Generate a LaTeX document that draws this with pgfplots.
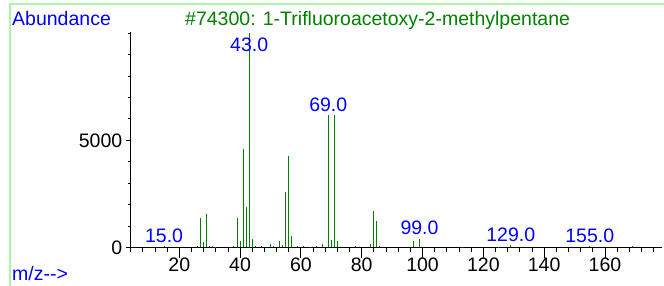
\documentclass[border=0pt]{standalone}
\usepackage{pgfplots}
\pgfplotsset{compat=1.18}
\usepackage{fontspec}
\setmainfont{Liberation Sans}
\definecolor{specgreen}{RGB}{0,128,0}
\definecolor{labblue}{RGB}{0,0,255}
\definecolor{framegreen}{RGB}{170,245,170}
\newcommand{\bigfont}{\fontsize{19.5}{23}\selectfont}
\begin{document}
\begin{tikzpicture}[x=1pt,y=1pt]
\path[use as bounding box] (0,0) rectangle (664,285);
\draw[framegreen, line width=1.5pt] (10,-5) -- (10,281) -- (670,281);
\begin{axis}[
  at={(130pt,37.7pt)}, anchor=south west,
  scale only axis, width=532pt, height=215.3pt,
  xmin=3.8, xmax=178.75, ymin=0, ymax=10060,
  axis x line=bottom, axis y line=left,
  axis line style={-, black, line width=0.8pt},
  scaled y ticks=false, scaled x ticks=false,
  xtick={20,40,...,160}, xticklabels={20,40,60,80,100,120,140,160},
  minor xtick={4,8,...,176},
  ytick={0,5000}, yticklabels={0,5000},
  minor ytick={1000,2000,...,10000},
  tick align=outside,
  major x tick style={black, line width=0.8pt, /pgfplots/major tick length=11pt},
  minor x tick style={black, line width=0.8pt, /pgfplots/minor tick length=4.5pt},
  major y tick style={black, line width=0.8pt, /pgfplots/major tick length=4pt},
  minor y tick style={black, line width=0.8pt, /pgfplots/minor tick length=2.5pt},
  tick label style={font=\bigfont, black},
  xticklabel style={yshift=-3pt},
  clip=false,
]
\addplot[ycomb, specgreen, line width=1pt, no marks] coordinates {
(15,40) (26,60) (27,1350) (28,250) (29,1570) (30,40) (31,60) (32,30)
(37,30) (38,50) (39,1390) (40,290) (41,4590) (42,1860) (43,10000) (44,380)
(45,50) (47,40) (50,150) (51,70) (53,280) (54,110) (55,2590) (56,4260)
(57,520) (59,60) (61,40) (63,30) (65,40) (67,140) (69,6170) (70,340)
(71,6170) (72,310) (78,70) (83,150) (84,1710) (85,1230) (86,80)
(97,310) (99,400) (113,30) (125,30) (129,90) (155,40) (169,40)
};
\node[labblue, anchor=base, inner sep=0, font=\bigfont] at (axis cs:43,9140) {43.0};
\node[labblue, anchor=base, inner sep=0, font=\bigfont] at ([yshift=3.5pt]axis cs:69,6170) {69.0};
\node[labblue, anchor=base, inner sep=0, font=\bigfont] at ([yshift=4.5pt]axis cs:99,400) {99.0};
\node[labblue, anchor=base, inner sep=0, font=\bigfont] at ([yshift=4pt]axis cs:129,90) {129.0};
\node[labblue, anchor=base, inner sep=0, font=\bigfont] at ([yshift=4pt]axis cs:155,40) {155.0};
\node[labblue, anchor=base, inner sep=0, font=\bigfont] at ([yshift=4pt]axis cs:15,40) {15.0};
\end{axis}
\node[anchor=base west, inner sep=0, labblue, font=\bigfont] at (12,260) {Abundance};
\node[anchor=base west, inner sep=0, specgreen, font=\bigfont] at (185,260) {\#74300: 1-Trifluoroacetoxy-2-methylpentane};
\node[anchor=base west, inner sep=0, labblue, font=\bigfont] at (12,5) {m/z{-}{-}>};
\end{tikzpicture}
\end{document}
